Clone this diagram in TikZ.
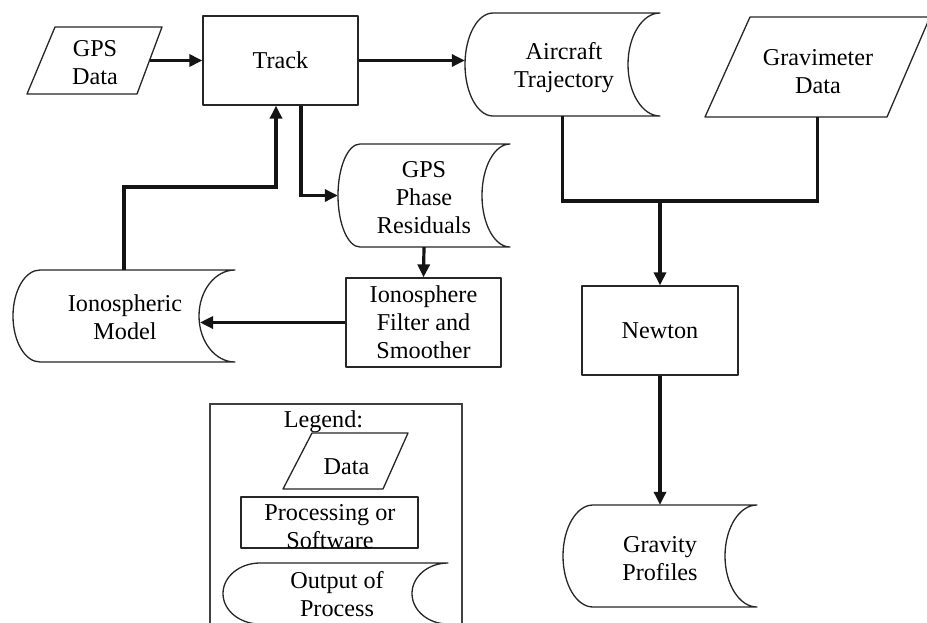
\documentclass[tikz,border=0pt]{standalone}
\usepackage{fontspec}
\setmainfont{Liberation Serif}
\usetikzlibrary{arrows.meta,calc}
\tikzset{
  outline/.style={draw=black!85, line width=1.3pt, line join=round},
  conn/.style={draw=black!92, line width=3.2pt},
  arr/.style={conn, -{Triangle[length=13pt,width=12pt]}},
  txt/.style={font=\fontsize{24.2}{28}\selectfont, align=center, inner sep=0pt, text=black},
  bound/.style={draw=none, inner sep=0pt},
  procbox/.style={outline, fill=white, inner sep=0pt, font=\fontsize{24.2}{28}\selectfont, align=center, text=black},
}
% stored-data outline: x0 y0 x1 y1 left-bulge right-bulge
\newcommand\sdshape[6]{%
  \draw[outline] ({#1+#5},#2) -- (#3,#2)
    .. controls ({#3-0.552*#6},#2) and ({#3-#6},{#2+0.2239*(#4-#2)}) .. ({#3-#6},{(#2+#4)/2})
    .. controls ({#3-#6},{#4-0.2239*(#4-#2)}) and ({#3-0.552*#6},#4) .. (#3,#4)
    -- ({#1+#5},#4)
    .. controls ({#1+0.448*#5},#4) and (#1,{#4-0.2239*(#4-#2)}) .. (#1,{(#2+#4)/2})
    .. controls (#1,{#2+0.2239*(#4-#2)}) and ({#1+0.448*#5},#2) .. cycle;}
\begin{document}
\begin{tikzpicture}[x=1pt,y=-1pt]
\useasboundingbox (0,0) rectangle (927,622);
\fill[white] (0,0) rectangle (927,622);
\clip (0,0) rectangle (927,622);

% ---- GPS Data
\draw[outline] (55,27) -- (162,27) -- (137,94) -- (27,94) -- cycle;
\node[bound, minimum width=110, minimum height=67] (gps) at (94.5,60.5) {};
\node[txt] (gpstxt) at (95,63) {GPS\\Data};

% ---- Track
\node[procbox, minimum width=155, minimum height=89] (track) at (280.5,60.5) {Track};

% ---- Aircraft Trajectory
\sdshape{465}{13}{660}{116}{28}{32}
\node[bound, minimum width=195, minimum height=103] (air) at (562.5,64.5) {};
\node[txt] (airtxt) at (564,67.5) {Aircraft\\Trajectory};

% ---- Gravimeter Data
\draw[outline] (750,17) -- (930,17) -- (887,117) -- (705,117) -- cycle;
\node[bound, minimum width=225, minimum height=100] (grav) at (817.5,67) {};
\node[txt] (gravtxt) at (818,71.5) {Gravimeter\\Data};

% ---- GPS Phase Residuals
\sdshape{338}{144}{510}{247}{22}{28}
\node[bound, minimum width=172, minimum height=103] (gpsres) at (424,195.5) {};
\node[txt] (gpsrestxt) at (424,197.5) {GPS\\Phase\\Residuals};

% ---- Ionosphere Filter and Smoother
\node[procbox, minimum width=155, minimum height=89] (ionfilt) at (423.5,322.5) {Ionosphere\\Filter and\\Smoother};

% ---- Ionospheric Model
\sdshape{13}{270}{235}{362}{27}{36}
\node[bound, minimum width=222, minimum height=92] (ionmodel) at (124,316) {};
\node[txt] (ionmodtxt) at (125,317.5) {Ionospheric\\Model};
\coordinate (imin) at (200,316);

% ---- Newton
\node[procbox, minimum width=156, minimum height=89] (newton) at (660,330.5) {Newton};

% ---- Gravity Profiles
\sdshape{563}{505}{757}{607}{30}{32}
\node[bound, minimum width=194, minimum height=102] (gravprof) at (660,556) {};
\node[txt] (gravproftxt) at (660,558.5) {Gravity\\Profiles};

% ---- Legend
\node[draw=black!75, line width=1.3pt, minimum width=252, minimum height=240, inner sep=0pt] (legend) at (336,524) {};
\node[txt] (legtxt) at (323.5,422) {Legend:};
\draw[outline] (312,433) -- (408,433) -- (383,489) -- (283,489) -- cycle;
\node[txt] (datatxt) at (346.5,466.5) {Data};
\node[procbox, minimum width=177, minimum height=51] (procleg) at (329.5,522.5) {};
\node[txt] (proctxt) at (330,527) {Processing or\\Software};
\sdshape{223}{563}{448}{624}{37}{36}
\node[txt] (outtxt) at (337,594) {Output of\\Process};

% ---- connectors
\draw[arr] (gps.east) -- (gps.east -| track.west);
\draw[arr] (track.east) -- (track.east -| air.west);
\coordinate (join) at (660,201);
\draw[conn] (air.south) |- (join) -| (grav.south);
\draw[arr] (join) -- (newton.north);
\draw[arr] (newton.south) -- (gravprof.north);
\draw[arr] ([xshift=20.5pt]track.south) |- (gpsres.west);
\draw[arr] (gpsres.south) -- (ionfilt.north);
\draw[arr] (ionfilt.west) -- (ionfilt.west -| imin);
\coordinate (bend) at (276,187);
\draw[arr] (ionmodel.north) |- (bend) -- (bend |- track.south);
\end{tikzpicture}
\end{document}
